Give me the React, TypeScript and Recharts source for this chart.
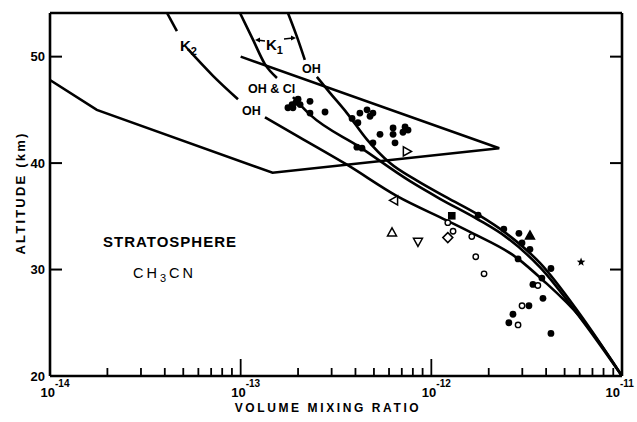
import React from 'react';
import { ComposedChart, Line, Scatter, XAxis, YAxis } from 'recharts';

// axis ticks
const DECADES = [1e-14, 1e-13, 1e-12];
const MINOR_STEPS = [2, 3, 4, 5, 6, 7, 8, 9];
const MAJOR_TICKS = [1e-14, 1e-13, 1e-12, 1e-11];
const X_TICKS = [...MAJOR_TICKS, ...DECADES.flatMap((d) => MINOR_STEPS.map((m) => m * d))];
const Y_TICKS = [20, 30, 40, 50];
const Y_TICKS_RIGHT = [30, 40, 50];

// measurement envelope (open polyline)
const ENVELOPE = [
    { x: 1e-14, y: 47.8 },
    { x: 1.76e-14, y: 45.0 },
    { x: 1.47e-13, y: 39.1 },
    { x: 2.27e-12, y: 41.4 },
    { x: 1e-13, y: 50.0 },
];

// K2 / OH model curve (split where labels sit)
const K2_TOP = [
    { x: 4.11e-14, y: 54.1 },
    { x: 4.63e-14, y: 52.4 },
];
const K2_MID = [
    { x: 5.29e-14, y: 50.7 },
    { x: 7.16e-14, y: 48.2 },
    { x: 9.68e-14, y: 46.0 },
];
const K2_LOW = [
    { x: 1.34e-13, y: 44.3 },
    { x: 2.05e-13, y: 42.4 },
    { x: 3.61e-13, y: 39.85 },
    { x: 6.61e-13, y: 36.9 },
    { x: 1.21e-12, y: 34.6 },
    { x: 1.65e-12, y: 33.4 },
    { x: 2.81e-12, y: 31.1 },
    { x: 3.85e-12, y: 29.0 },
    { x: 6.02e-12, y: 25.55 },
    { x: 1e-11, y: 20 },
];

// K1 / OH & Cl model curve
const OHCL_TOP = [
    { x: 9.92e-14, y: 54.1 },
    { x: 1.16e-13, y: 51.6 },
    { x: 1.34e-13, y: 49.3 },
    { x: 1.55e-13, y: 48.0 },
];
const OHCL_LOW = [
    { x: 1.88e-13, y: 46.2 },
    { x: 2.31e-13, y: 44.55 },
    { x: 4.22e-13, y: 41.5 },
    { x: 7.73e-13, y: 38.3 },
    { x: 1.11e-12, y: 36.65 },
    { x: 1.76e-12, y: 34.7 },
    { x: 2.49e-12, y: 33.0 },
    { x: 3.72e-12, y: 30.2 },
    { x: 6.02e-12, y: 25.5 },
    { x: 1e-11, y: 20 },
];

// K1 / OH model curve
const K1OH_TOP = [
    { x: 1.77e-13, y: 54.1 },
    { x: 1.97e-13, y: 51.9 },
    { x: 2.17e-13, y: 49.7 },
];
const K1OH_LOW = [
    { x: 2.51e-13, y: 48.1 },
    { x: 2.94e-13, y: 46.6 },
    { x: 3.61e-13, y: 44.7 },
    { x: 4.6e-13, y: 42.2 },
    { x: 6.07e-13, y: 40.0 },
    { x: 8.41e-13, y: 38.35 },
    { x: 1.21e-12, y: 36.75 },
    { x: 1.76e-12, y: 35.15 },
    { x: 2.49e-12, y: 33.35 },
    { x: 3.72e-12, y: 30.6 },
    { x: 6.02e-12, y: 25.8 },
    { x: 1e-11, y: 20 },
];

// measurements
const FILLED_CIRCLES = [
    { x: 1.77e-13, y: 45.2 }, { x: 1.86e-13, y: 45.5 }, { x: 1.95e-13, y: 45.7 },
    { x: 2.0e-13, y: 46.0 }, { x: 2.05e-13, y: 45.5 }, { x: 1.88e-13, y: 45.2 },
    { x: 2.31e-13, y: 45.8 }, { x: 2.31e-13, y: 44.7 }, { x: 2.77e-13, y: 44.8 },
    { x: 3.84e-13, y: 44.2 }, { x: 4.22e-13, y: 44.7 }, { x: 4.6e-13, y: 45.0 },
    { x: 4.94e-13, y: 44.7 }, { x: 4.77e-13, y: 44.4 }, { x: 4.12e-13, y: 43.8 },
    { x: 5.38e-13, y: 42.7 }, { x: 6.3e-13, y: 43.3 }, { x: 6.3e-13, y: 42.7 },
    { x: 6.45e-13, y: 41.9 }, { x: 7.1e-13, y: 42.9 }, { x: 7.28e-13, y: 43.4 },
    { x: 7.55e-13, y: 43.1 }, { x: 4.94e-13, y: 41.9 }, { x: 4.07e-13, y: 41.5 },
    { x: 4.33e-13, y: 41.4 }, { x: 1.76e-12, y: 35.1 }, { x: 2.4e-12, y: 33.8 },
    { x: 2.88e-12, y: 33.4 }, { x: 2.99e-12, y: 32.5 }, { x: 3.29e-12, y: 31.9 },
    { x: 2.85e-12, y: 31.0 }, { x: 4.24e-12, y: 30.1 }, { x: 3.8e-12, y: 29.2 },
    { x: 3.41e-12, y: 28.6 }, { x: 3.85e-12, y: 27.3 }, { x: 3.25e-12, y: 26.6 },
    { x: 2.68e-12, y: 25.8 }, { x: 2.55e-12, y: 25.0 }, { x: 4.24e-12, y: 24.0 },
];
const OPEN_CIRCLES = [
    { x: 1.22e-12, y: 34.4 }, { x: 1.3e-12, y: 33.6 }, { x: 1.63e-12, y: 33.1 },
    { x: 1.71e-12, y: 31.2 }, { x: 1.89e-12, y: 29.6 }, { x: 3.62e-12, y: 28.5 },
    { x: 2.99e-12, y: 26.6 }, { x: 2.85e-12, y: 24.8 },
];
const FILLED_SQUARE = [{ x: 1.28e-12, y: 35.05 }];
const OPEN_DIAMOND = [{ x: 1.22e-12, y: 33.0 }];
const FILLED_TRIANGLE = [{ x: 3.29e-12, y: 33.2 }];
const STAR = [{ x: 6.1e-12, y: 30.7 }];
const TRI_RIGHT = [{ x: 7.45e-13, y: 41.1 }];
const TRI_LEFT = [{ x: 6.37e-13, y: 36.5 }];
const TRI_UP = [{ x: 6.22e-13, y: 33.5 }];
const TRI_DOWN = [{ x: 8.51e-13, y: 32.6 }];

const FONT = '"Liberation Sans", Arial, sans-serif';
const INK = '#000';

const isMajor = (v: number) => {
    const e = Math.round(Math.log10(v));
    return Math.abs(v - Math.pow(10, e)) / v < 1e-6;
};

const BottomTick = (props: any) => {
    const { x, y, payload } = props;
    const v = payload.value;
    const major = isMajor(v);
    const exp = Math.round(Math.log10(v));
    // keep the last label inside the page
    const lx = exp === -11 ? x - 2 : x + 5;
    return (
        <g>
            <line x1={x} x2={x} y1={y} y2={y - (major ? 17 : 8)} stroke={INK} strokeWidth={1.8} />
            {major && (
                <text x={lx} y={y + 21} fontFamily={FONT} fontWeight="bold" fontSize={13} fill={INK} textAnchor="end">
                    10
                </text>
            )}
            {major && (
                <text x={lx} y={y + 11} fontFamily={FONT} fontWeight="bold" fontSize={10} fill={INK}>
                    {exp}
                </text>
            )}
        </g>
    );
};

const TopTick = (props: any) => {
    const { x, y, payload } = props;
    const major = isMajor(payload.value);
    return <line x1={x} x2={x} y1={y} y2={y + (major ? 17 : 7)} stroke={INK} strokeWidth={1.8} />;
};

const LeftTick = (props: any) => {
    const { x, y, payload } = props;
    return (
        <g>
            {payload.value !== 20 && <line x1={x} x2={x + 12} y1={y} y2={y} stroke={INK} strokeWidth={2} />}
            <text x={x - 5} y={y} dy="0.35em" textAnchor="end" fontFamily={FONT} fontWeight="bold" fontSize={13} fill={INK}>
                {payload.value}
            </text>
        </g>
    );
};

const RightTick = (props: any) => {
    const { x, y } = props;
    return <line x1={x} x2={x - 12} y1={y} y2={y} stroke={INK} strokeWidth={2} />;
};

const dotFilled = (p: any) => <circle cx={p.cx} cy={p.cy} r={3.4} fill={INK} />;
const dotOpen = (p: any) => <circle cx={p.cx} cy={p.cy} r={2.7} fill="#fff" stroke={INK} strokeWidth={1.4} />;
const squareFilled = (p: any) => <rect x={p.cx - 3.8} y={p.cy - 3.8} width={7.6} height={7.6} fill={INK} />;
const diamondOpen = (p: any) => (
    <path d={`M${p.cx},${p.cy - 5}L${p.cx + 5},${p.cy}L${p.cx},${p.cy + 5}L${p.cx - 5},${p.cy}Z`} fill="#fff" stroke={INK} strokeWidth={1.5} />
);
const triangle = (dir: 'up' | 'down' | 'left' | 'right', filled: boolean) => (p: any) => {
    const { cx, cy } = p;
    const s = 4.5;
    let d = '';
    if (dir === 'up') d = `M${cx},${cy - s}L${cx + s},${cy + s * 0.8}L${cx - s},${cy + s * 0.8}Z`;
    if (dir === 'down') d = `M${cx},${cy + s}L${cx + s},${cy - s * 0.8}L${cx - s},${cy - s * 0.8}Z`;
    if (dir === 'left') d = `M${cx - s},${cy}L${cx + s * 0.8},${cy - s}L${cx + s * 0.8},${cy + s}Z`;
    if (dir === 'right') d = `M${cx + s},${cy}L${cx - s * 0.8},${cy - s}L${cx - s * 0.8},${cy + s}Z`;
    return <path d={d} fill={filled ? INK : '#fff'} stroke={INK} strokeWidth={1.5} />;
};
const star = (p: any) => {
    const { cx, cy } = p;
    const pts: string[] = [];
    for (let i = 0; i < 10; i++) {
        const r = i % 2 === 0 ? 4.5 : 1.9;
        const a = -Math.PI / 2 + (i * Math.PI) / 5;
        pts.push(`${cx + r * Math.cos(a)},${cy + r * Math.sin(a)}`);
    }
    return <polygon points={pts.join(' ')} fill={INK} />;
};

const curve = (data: { x: number; y: number }[], key: string, type: 'monotone' | 'linear' = 'monotone') => (
    <Line
        key={key}
        data={data}
        dataKey="y"
        type={type}
        stroke={INK}
        strokeWidth={2.6}
        dot={false}
        activeDot={false}
        isAnimationActive={false}
    />
);

const points = (data: { x: number; y: number }[], key: string, shape: any) => (
    <Scatter key={key} data={data} dataKey="y" shape={shape} isAnimationActive={false} />
);

export default function App() {
    return (
        <div style={{ position: 'absolute', left: 0, top: 0, width: 637, height: 422, background: '#fff' }}>
            <ComposedChart width={637} height={422} margin={{ top: 12, right: 14, bottom: 45, left: 49 }}>
                <XAxis
                    dataKey="x"
                    type="number"
                    scale="log"
                    domain={[1e-14, 1e-11]}
                    allowDataOverflow
                    ticks={X_TICKS}
                    interval={0}
                    height={1}
                    tickSize={0}
                    tickMargin={0}
                    tickLine={false}
                    tick={BottomTick}
                    axisLine={{ stroke: INK, strokeWidth: 2.6 }}
                />
                <XAxis
                    xAxisId="top"
                    orientation="top"
                    type="number"
                    scale="log"
                    domain={[1e-14, 1e-11]}
                    allowDataOverflow
                    ticks={X_TICKS}
                    interval={0}
                    height={1}
                    tickSize={0}
                    tickMargin={0}
                    tickLine={false}
                    tick={TopTick}
                    axisLine={{ stroke: INK, strokeWidth: 2.6 }}
                />
                <YAxis
                    dataKey="y"
                    type="number"
                    domain={[20, 54.1]}
                    allowDataOverflow
                    ticks={Y_TICKS}
                    interval={0}
                    width={1}
                    tickSize={0}
                    tickMargin={0}
                    tickLine={false}
                    tick={LeftTick}
                    axisLine={{ stroke: INK, strokeWidth: 2.6 }}
                />
                <YAxis
                    yAxisId="right"
                    orientation="right"
                    type="number"
                    domain={[20, 54.1]}
                    allowDataOverflow
                    ticks={Y_TICKS_RIGHT}
                    interval={0}
                    width={1}
                    tickSize={0}
                    tickMargin={0}
                    tickLine={false}
                    tick={RightTick}
                    axisLine={{ stroke: INK, strokeWidth: 2.6 }}
                />
                {curve(ENVELOPE, 'env', 'linear')}
                {curve(K2_TOP, 'k2a')}
                {curve(K2_MID, 'k2b')}
                {curve(K2_LOW, 'k2c')}
                {curve(OHCL_TOP, 'ohcla')}
                {curve(OHCL_LOW, 'ohclb')}
                {curve(K1OH_TOP, 'k1a')}
                {curve(K1OH_LOW, 'k1b')}
                {points(FILLED_CIRCLES, 'fc', dotFilled)}
                {points(OPEN_CIRCLES, 'oc', dotOpen)}
                {points(FILLED_SQUARE, 'sq', squareFilled)}
                {points(OPEN_DIAMOND, 'dm', diamondOpen)}
                {points(FILLED_TRIANGLE, 'ft', triangle('up', true))}
                {points(STAR, 'st', star)}
                {points(TRI_RIGHT, 'tr', triangle('right', false))}
                {points(TRI_LEFT, 'tl', triangle('left', false))}
                {points(TRI_UP, 'tu', triangle('up', false))}
                {points(TRI_DOWN, 'td', triangle('down', false))}
            </ComposedChart>
            <svg
                width={637}
                height={422}
                style={{ position: 'absolute', left: 0, top: 0, pointerEvents: 'none' }}
                fontFamily={FONT}
                fontWeight="bold"
                fill={INK}
            >
                <text x={20} y={193} transform="rotate(-90 20 193)" textAnchor="middle" dy="0.35em" fontSize={13} letterSpacing={2.2}>
                    ALTITUDE (km)
                </text>
                <text x={328} y={412} textAnchor="middle" fontSize={12} letterSpacing={2.6}>
                    VOLUME MIXING RATIO
                </text>
                <text x={170} y={247} textAnchor="middle" fontSize={15} letterSpacing={1}>
                    STRATOSPHERE
                </text>
                <text x={133} y={278} fontSize={14.5} letterSpacing={3} fontWeight="normal">
                    CH
                    <tspan dy={4} fontSize={11}>3</tspan>
                    <tspan dy={-4}>CN</tspan>
                </text>
                <text x={180} y={51} fontSize={15}>
                    K<tspan dy={4} fontSize={11}>2</tspan>
                </text>
                <text x={266} y={50} fontSize={15}>
                    K<tspan dy={4} fontSize={11}>1</tspan>
                </text>
                <line x1={265} x2={257} y1={41} y2={40} stroke={INK} strokeWidth={1.3} />
                <path d="M255,40 L260,37.5 L260,42.5 Z" fill={INK} />
                <line x1={284} x2={293} y1={39} y2={38} stroke={INK} strokeWidth={1.3} />
                <path d="M296,38 L291,35.5 L291,40.5 Z" fill={INK} />
                <text x={302} y={73} fontSize={12.5}>OH</text>
                <text x={248} y={93} fontSize={12.5}>OH &amp; Cl</text>
                <text x={242} y={115} fontSize={12.5}>OH</text>
            </svg>
        </div>
    );
}
